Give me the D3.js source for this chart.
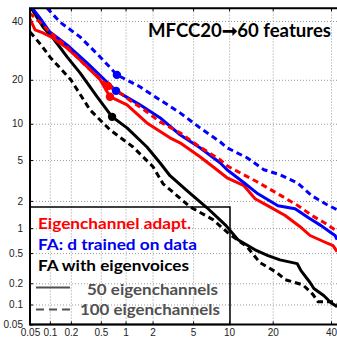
<!DOCTYPE html>
<html><head>
<meta charset="utf-8">
<script src="https://d3js.org/d3.v7.min.js"></script>
<style>
  body { margin: 0; background: #fff; }
  .grid line { stroke: #9a9a9a; stroke-width: 1; stroke-dasharray: 1,2; }
  .grid .domain { display: none; }
  .tk text { font-family: "Liberation Sans", Arial, sans-serif; font-size: 10px; fill: #222; }
  .tk .domain { display: none; }
  .tk line { stroke: #000; }
  .curve { fill: none; stroke-width: 3; stroke-linejoin: round; }
  .lg { font-family: Lato, "Open Sans", sans-serif; font-weight: bold; }
</style>
</head>
<body>
<script>
// tick values (percent) and their labels
var tickVals = [0.05, 0.1, 0.2, 0.5, 1, 2, 5, 10, 20, 40];
var tickLabels = ["0.05", "0.1", "0.2", "0.5", "1", "2", "5", "10", "20", "40"];

// Eigenchannel adapt., 50 eigenchannels (false alarm %, miss %)
var ec50Fa   = [0.049,0.06,0.079,0.111,0.177,0.293,0.49,0.65,1.04,1.74,3.02,3.78,5.76,7.44,9.64,12.9,15.4,19.2,23.7,28.6,32.1,37.3,40.8,42.4];
var ec50Miss = [41.2,36.6,35.5,33.6,30.0,25.1,20.0,15.6,13.73,10.15,7.75,7.05,5.35,4.35,3.42,2.86,2.11,1.73,1.39,1.04,0.82,0.69,0.62,0.52];
// Eigenchannel adapt., 100 eigenchannels
var ec100Fa   = [0.049,0.071,0.1,0.177,0.331,0.615,0.86,1.22,1.46,2.39,3.78,5.76,8.49,9.64,12.06,15.87,21.5,27.9,32.8,37.3,40.8,42.4];
var ec100Miss = [43.1,39.6,35.8,30.4,23.8,18.3,16.55,14.2,13.3,10.34,8.5,6.5,5.03,4.44,3.82,3.13,2.37,1.78,1.39,1.16,0.99,0.91];
// FA: d trained on data, 50
var fad50Fa   = [0.054,0.071,0.1,0.177,0.331,0.77,1.46,2.39,3.78,5.76,8.49,9.64,12.9,16.1,21.5,26.9,31.4,36.2,40.0,41.6,42.4];
var fad50Miss = [45.1,41.2,35.8,31.1,25.1,17.05,13.73,11.1,8.2,6.4,4.73,4.08,3.06,2.37,1.78,1.65,1.32,1.07,0.885,0.82,0.73];
// FA: d trained on data, 100
var fad100Fa   = [0.091,0.14,0.267,0.49,0.79,1.46,2.39,3.78,5.76,8.49,9.64,13.55,17.6,22.1,27.6,32.8,38.5,42.4];
var fad100Miss = [45.1,39.6,34.0,27.0,21.4,18.1,14.85,12.05,9.3,7.19,6.4,5.24,4.08,3.66,3.06,2.26,1.82,1.61];
// FA with eigenvoices, 50
var fav50Fa   = [0.052,0.079,0.111,0.177,0.267,0.447,0.69,1.04,1.74,2.39,3.02,4.5,6.63,9.47,11.66,15.4,18.7,22.1,27.6,28.9,32.1,33.5,37.3,40.0,42.4];
var fav50Miss = [45.1,37.7,33.6,27.0,22.0,15.6,11.27,9.3,6.5,4.73,3.58,2.49,1.69,1.07,0.73,0.55,0.465,0.41,0.367,0.297,0.205,0.169,0.134,0.106,0.093];
// FA with eigenvoices, 100
var fav100Fa   = [0.05,0.074,0.1,0.2,0.363,0.65,1.22,2.02,2.57,3.02,4.69,7.44,10.15,13.55,16.6,21.2,23.7,29.6,33.2,35.0,40.8,42.4];
var fav100Miss = [35.8,31.1,27.0,20.0,12.65,8.98,6.5,4.35,2.99,2.61,1.73,1.25,0.84,0.60,0.377,0.28,0.224,0.19,0.139,0.11,0.11,0.103];

// operating-point dots
var dotFa    = [0.65, 0.615, 0.77, 0.79, 0.69];
var dotMiss  = [15.6, 18.3, 17.05, 21.4, 11.27];
var dotColor = ["#ff0000", "#ff0000", "#0000ff", "#0000ff", "#000000"];

var legendText = ["Eigenchannel adapt.", "FA: d trained on data", "FA with eigenvoices", "50 eigenchannels", "100 eigenchannels"];
var titleText = "MFCC20\u279e60 features";

// inverse normal cdf (Acklam)
function probit(p) {
  var a = [-3.969683028665376e+01, 2.209460984245205e+02, -2.759285104469687e+02, 1.383577518672690e+02, -3.066479806614716e+01, 2.506628277459239e+00];
  var b = [-5.447609879822406e+01, 1.615858368580409e+02, -1.556989798598866e+02, 6.680131188771972e+01, -1.328068155288572e+01];
  var c = [-7.784894002430293e-03, -3.223964580411365e-01, -2.400758277161838e+00, -2.549732539343734e+00, 4.374664141464968e+00, 2.938163982698783e+00];
  var d = [7.784695709041462e-03, 3.224671290700398e-01, 2.445134137142996e+00, 3.754408661907416e+00];
  var q, r;
  if (p < 0.02425) {
    q = Math.sqrt(-2 * Math.log(p));
    return (((((c[0]*q+c[1])*q+c[2])*q+c[3])*q+c[4])*q+c[5]) / ((((d[0]*q+d[1])*q+d[2])*q+d[3])*q+1);
  } else if (p <= 1 - 0.02425) {
    q = p - 0.5; r = q * q;
    return (((((a[0]*r+a[1])*r+a[2])*r+a[3])*r+a[4])*r+a[5])*q / (((((b[0]*r+b[1])*r+b[2])*r+b[3])*r+b[4])*r+1);
  }
  return -probit(1 - p);
}
function z(v) { return probit(v / 100); }

var W = 337, H = 337;
var x = d3.scaleLinear().domain([z(0.05), z(40)]).range([30, 331]);
var y = d3.scaleLinear().domain([z(0.05), z(40)]).range([324.5, 21]);
var x0 = x(z(0.05)), x1 = x(z(45)), y0 = y(z(0.05)), y1 = y(z(45));

var svg = d3.select("body").append("svg")
  .attr("width", W).attr("height", H);

svg.append("defs").append("clipPath").attr("id", "clip")
  .append("rect").attr("x", x0).attr("y", y1).attr("width", x1 - x0).attr("height", y0 - y1);

var tz = tickVals.map(z);
var fmt = function(d, i) { return tickLabels[i]; };

// grid
svg.append("g").attr("class", "grid").attr("transform", "translate(0," + y0 + ")")
  .call(d3.axisBottom(x).tickValues(tz.slice(1)).tickSize(-(y0 - y1)).tickFormat(""));
svg.append("g").attr("class", "grid").attr("transform", "translate(" + x0 + ",0)")
  .call(d3.axisLeft(y).tickValues(tz.slice(1)).tickSize(-(x1 - x0)).tickFormat(""));

// axes
svg.append("g").attr("class", "tk").attr("transform", "translate(0," + y0 + ")")
  .call(d3.axisBottom(x).tickValues(tz).tickSize(0).tickPadding(4.5).tickFormat(fmt));
svg.append("g").attr("class", "tk").attr("transform", "translate(" + x0 + ",0)")
  .call(d3.axisLeft(y).tickValues(tz).tickSize(0).tickPadding(7).tickFormat(fmt));
svg.append("g").attr("class", "tk").attr("transform", "translate(0," + y1 + ")")
  .call(d3.axisTop(x).tickValues(tz).tickSize(-3).tickFormat(""));
svg.append("g").attr("class", "tk").attr("transform", "translate(0," + y0 + ")")
  .call(d3.axisBottom(x).tickValues(tz).tickSize(-3).tickFormat(""));
svg.append("g").attr("class", "tk").attr("transform", "translate(" + x0 + ",0)")
  .call(d3.axisRight(y).tickValues(tz).tickSize(3).tickFormat(""));

// curves
var series = [
  {fa: fav100Fa, miss: fav100Miss, color: "#000000", dash: true},
  {fa: fav50Fa, miss: fav50Miss, color: "#000000", dash: false},
  {fa: ec50Fa, miss: ec50Miss, color: "#ff0000", dash: false},
  {fa: fad50Fa, miss: fad50Miss, color: "#0000ff", dash: false},
  {fa: ec100Fa, miss: ec100Miss, color: "#ff0000", dash: true},
  {fa: fad100Fa, miss: fad100Miss, color: "#0000ff", dash: true}
];
var line = d3.line()
  .x(function(d) { return x(z(d[0])); })
  .y(function(d) { return y(z(d[1])); });

var plot = svg.append("g").attr("clip-path", "url(#clip)");
series.forEach(function(s) {
  plot.append("path")
    .datum(d3.zip(s.fa, s.miss))
    .attr("class", "curve")
    .attr("stroke", s.color)
    .attr("stroke-dasharray", s.dash ? "6,4" : null)
    .attr("d", line);
});
plot.selectAll("circle").data(d3.zip(dotFa, dotMiss, dotColor)).enter().append("circle")
  .attr("cx", function(d) { return x(z(d[0])); })
  .attr("cy", function(d) { return y(z(d[1])); })
  .attr("r", 4.2)
  .attr("fill", function(d) { return d[2]; });

// frame
svg.append("rect").attr("x", x0).attr("y", y1).attr("width", x1 - x0).attr("height", y0 - y1)
  .attr("fill", "none").attr("stroke", "#000").attr("stroke-width", 2);

// title
svg.append("text").attr("class", "lg").attr("x", 148).attr("y", 37)
  .attr("font-size", 18).attr("textLength", 183).attr("lengthAdjust", "spacingAndGlyphs")
  .text(titleText);

// legend
var lg = svg.append("g");
lg.append("rect").attr("x", x0).attr("y", 207).attr("width", 230 - x0).attr("height", y0 - 207)
  .attr("fill", "none").attr("stroke", "#000").attr("stroke-width", 1.5);
var lgX = [38, 38, 38, 87, 80];
var lgY = [229, 250, 270.5, 294.5, 315];
var lgW = [153, 159, 151, 131, 140];
var lgColor = ["#ff0000", "#0000ee", "#000000", "#505050", "#505050"];
lg.selectAll("text").data(legendText).enter().append("text")
  .attr("class", "lg")
  .attr("x", function(d, i) { return lgX[i]; })
  .attr("y", function(d, i) { return lgY[i]; })
  .attr("font-size", 15.5)
  .attr("textLength", function(d, i) { return lgW[i]; })
  .attr("lengthAdjust", "spacingAndGlyphs")
  .attr("fill", function(d, i) { return lgColor[i]; })
  .text(function(d) { return d; });
lg.append("line").attr("x1", 36).attr("x2", 70).attr("y1", 287.5).attr("y2", 287.5)
  .attr("stroke", "#505050").attr("stroke-width", 2);
lg.append("line").attr("x1", 36).attr("x2", 70).attr("y1", 309.5).attr("y2", 309.5)
  .attr("stroke", "#505050").attr("stroke-width", 2).attr("stroke-dasharray", "8,5");
</script>
</body></html>
